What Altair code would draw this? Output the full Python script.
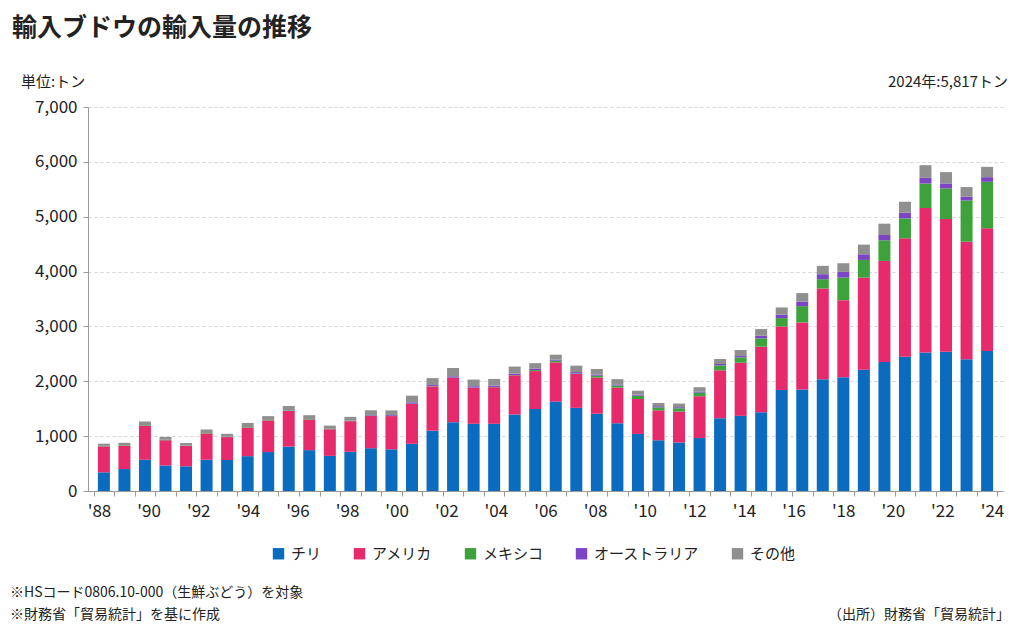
import altair as alt
import pandas as pd

FONT = "Noto Sans CJK JP"

series = ["チリ", "アメリカ", "メキシコ", "オーストラリア", "その他"]
colors = ["#0b6bbf", "#e62a6c", "#3da23b", "#7b45c6", "#8f8f8f"]

chile = [340, 400, 570, 465, 450, 570, 565, 635, 710, 810, 745, 640, 715, 780, 760, 860,
         1100, 1255, 1225, 1225, 1395, 1495, 1630, 1515, 1410, 1235, 1040, 925, 885, 965,
         1327, 1370, 1436, 1842, 1848, 2036, 2073, 2212, 2352, 2448, 2527, 2539, 2400, 2552]
usa = [473, 424, 618, 460, 370, 478, 418, 522, 576, 649, 558, 485, 558, 588, 606, 727,
       806, 806, 655, 667, 715, 691, 715, 618, 661, 649, 637, 546, 563, 763,
       873, 969, 1194, 1158, 1225, 1655, 1406, 1679, 1842, 2158, 2631, 2419, 2145, 2236]
mexico = [10, 10, 12, 10, 8, 10, 8, 10, 10, 10, 10, 8, 8, 8, 5, 5,
          5, 5, 5, 5, 5, 18, 30, 10, 30, 40, 60, 55, 60, 65,
          90, 97, 152, 152, 297, 170, 412, 321, 376, 364, 448, 558, 752, 848]
australia = [0, 0, 0, 0, 0, 0, 0, 0, 0, 0, 0, 0, 3, 10, 15, 25,
             20, 25, 25, 25, 25, 25, 20, 25, 20, 20, 20, 20, 20, 20,
             25, 24, 48, 61, 79, 91, 103, 103, 97, 103, 103, 91, 67, 85]
other = [40, 45, 67, 51, 47, 63, 52, 74, 69, 81, 69, 59, 68, 85, 83, 121,
         127, 151, 121, 121, 128, 102, 90, 117, 101, 95, 71, 58, 66, 79,
         91, 110, 122, 133, 158, 152, 158, 176, 206, 200, 230, 206, 176, 188]

year_labels = list(range(1988, 2025, 2))
y_ticks = list(range(0, 7001, 1000))

n_bars = len(chile)
rows = []
for i in range(n_bars):
    for k, vals in enumerate([chile, usa, mexico, australia, other]):
        rows.append({"bar": i, "series": series[k], "order": k, "value": vals[i]})
df = pd.DataFrame(rows)

W, H = 915, 384
TXT = "#222222"
AX = "#9a9a9a"

bars = alt.Chart(df).mark_bar(size=12).encode(
    x=alt.X("bar:Q",
            scale=alt.Scale(domain=[-0.53, n_bars - 1 + 0.53], nice=False, zero=False),
            axis=alt.Axis(values=[i - 0.5 for i in range(n_bars + 1)], labels=False, grid=False,
                          title=None, tickSize=5, tickColor=AX, domainColor=AX, orient="bottom")),
    y=alt.Y("value:Q", stack="zero",
            scale=alt.Scale(domain=[0, 7000], nice=False),
            axis=alt.Axis(values=y_ticks, format=",d", title=None, grid=True, gridDash=[3, 3],
                          gridColor="#d4d4d4", tickSize=5, tickColor=AX, domainColor=AX,
                          labelFontSize=17, labelFont=FONT, labelColor=TXT, labelPadding=6)),
    color=alt.Color("series:N", scale=alt.Scale(domain=series, range=colors),
                    legend=alt.Legend(orient="none", legendX=183, legendY=439, direction="horizontal",
                                      title=None, symbolType="square", symbolSize=130,
                                      symbolStrokeWidth=0, labelFontSize=15, labelFont=FONT,
                                      labelColor=TXT, columnPadding=30, labelOffset=5)),
    order=alt.Order("order:Q", sort="ascending"),
)

year_df = pd.DataFrame({"year": year_labels})
year_axis = alt.Chart(year_df).mark_point(opacity=0).encode(
    x=alt.X("year:Q",
            scale=alt.Scale(domain=[1987.557, 2024.443], nice=False, zero=False),
            axis=alt.Axis(orient="bottom", values=year_labels,
                          labelExpr="\"'\" + slice(toString(datum.value), 2)",
                          ticks=False, tickSize=0, domain=False, grid=False, title=None,
                          labelFontSize=17, labelFont=FONT, labelColor=TXT, labelPadding=12,
                          labelFlush=False, labelOverlap=False)),
)


def note(text, x, y, size, align="left", weight="normal"):
    return alt.Chart(pd.DataFrame({"t": [text]})).mark_text(
        align=align, baseline="middle", fontSize=size, fontWeight=weight, font=FONT, color=TXT
    ).encode(text="t:N", x=alt.value(x), y=alt.value(y))


title = note("輸入ブドウの輸入量の推移", -76, -79, 25, weight="bold")
unit = note("単位:トン", -67, -25, 15)
total = note("2024年:5,817トン", 920, -25, 15, align="right")
foot1 = note("※HSコード0806.10-000（生鮮ぶどう）を対象", -78, 486, 14)
foot2 = note("※財務省「貿易統計」を基に作成", -78, 508, 14)
source = note("（出所）財務省「貿易統計」", 922, 508, 14, align="right")

chart = alt.layer(bars, year_axis, title, unit, total, foot1, foot2, source).resolve_scale(
    x="independent"
).properties(
    width=W, height=H,
    autosize=alt.AutoSizeParams(type="none"),
    padding={"left": 80, "top": 99, "right": 13, "bottom": 135},
    background="white",
).configure_view(stroke=None)

chart.save("out.html", embed_options={"renderer": "svg", "actions": False})
